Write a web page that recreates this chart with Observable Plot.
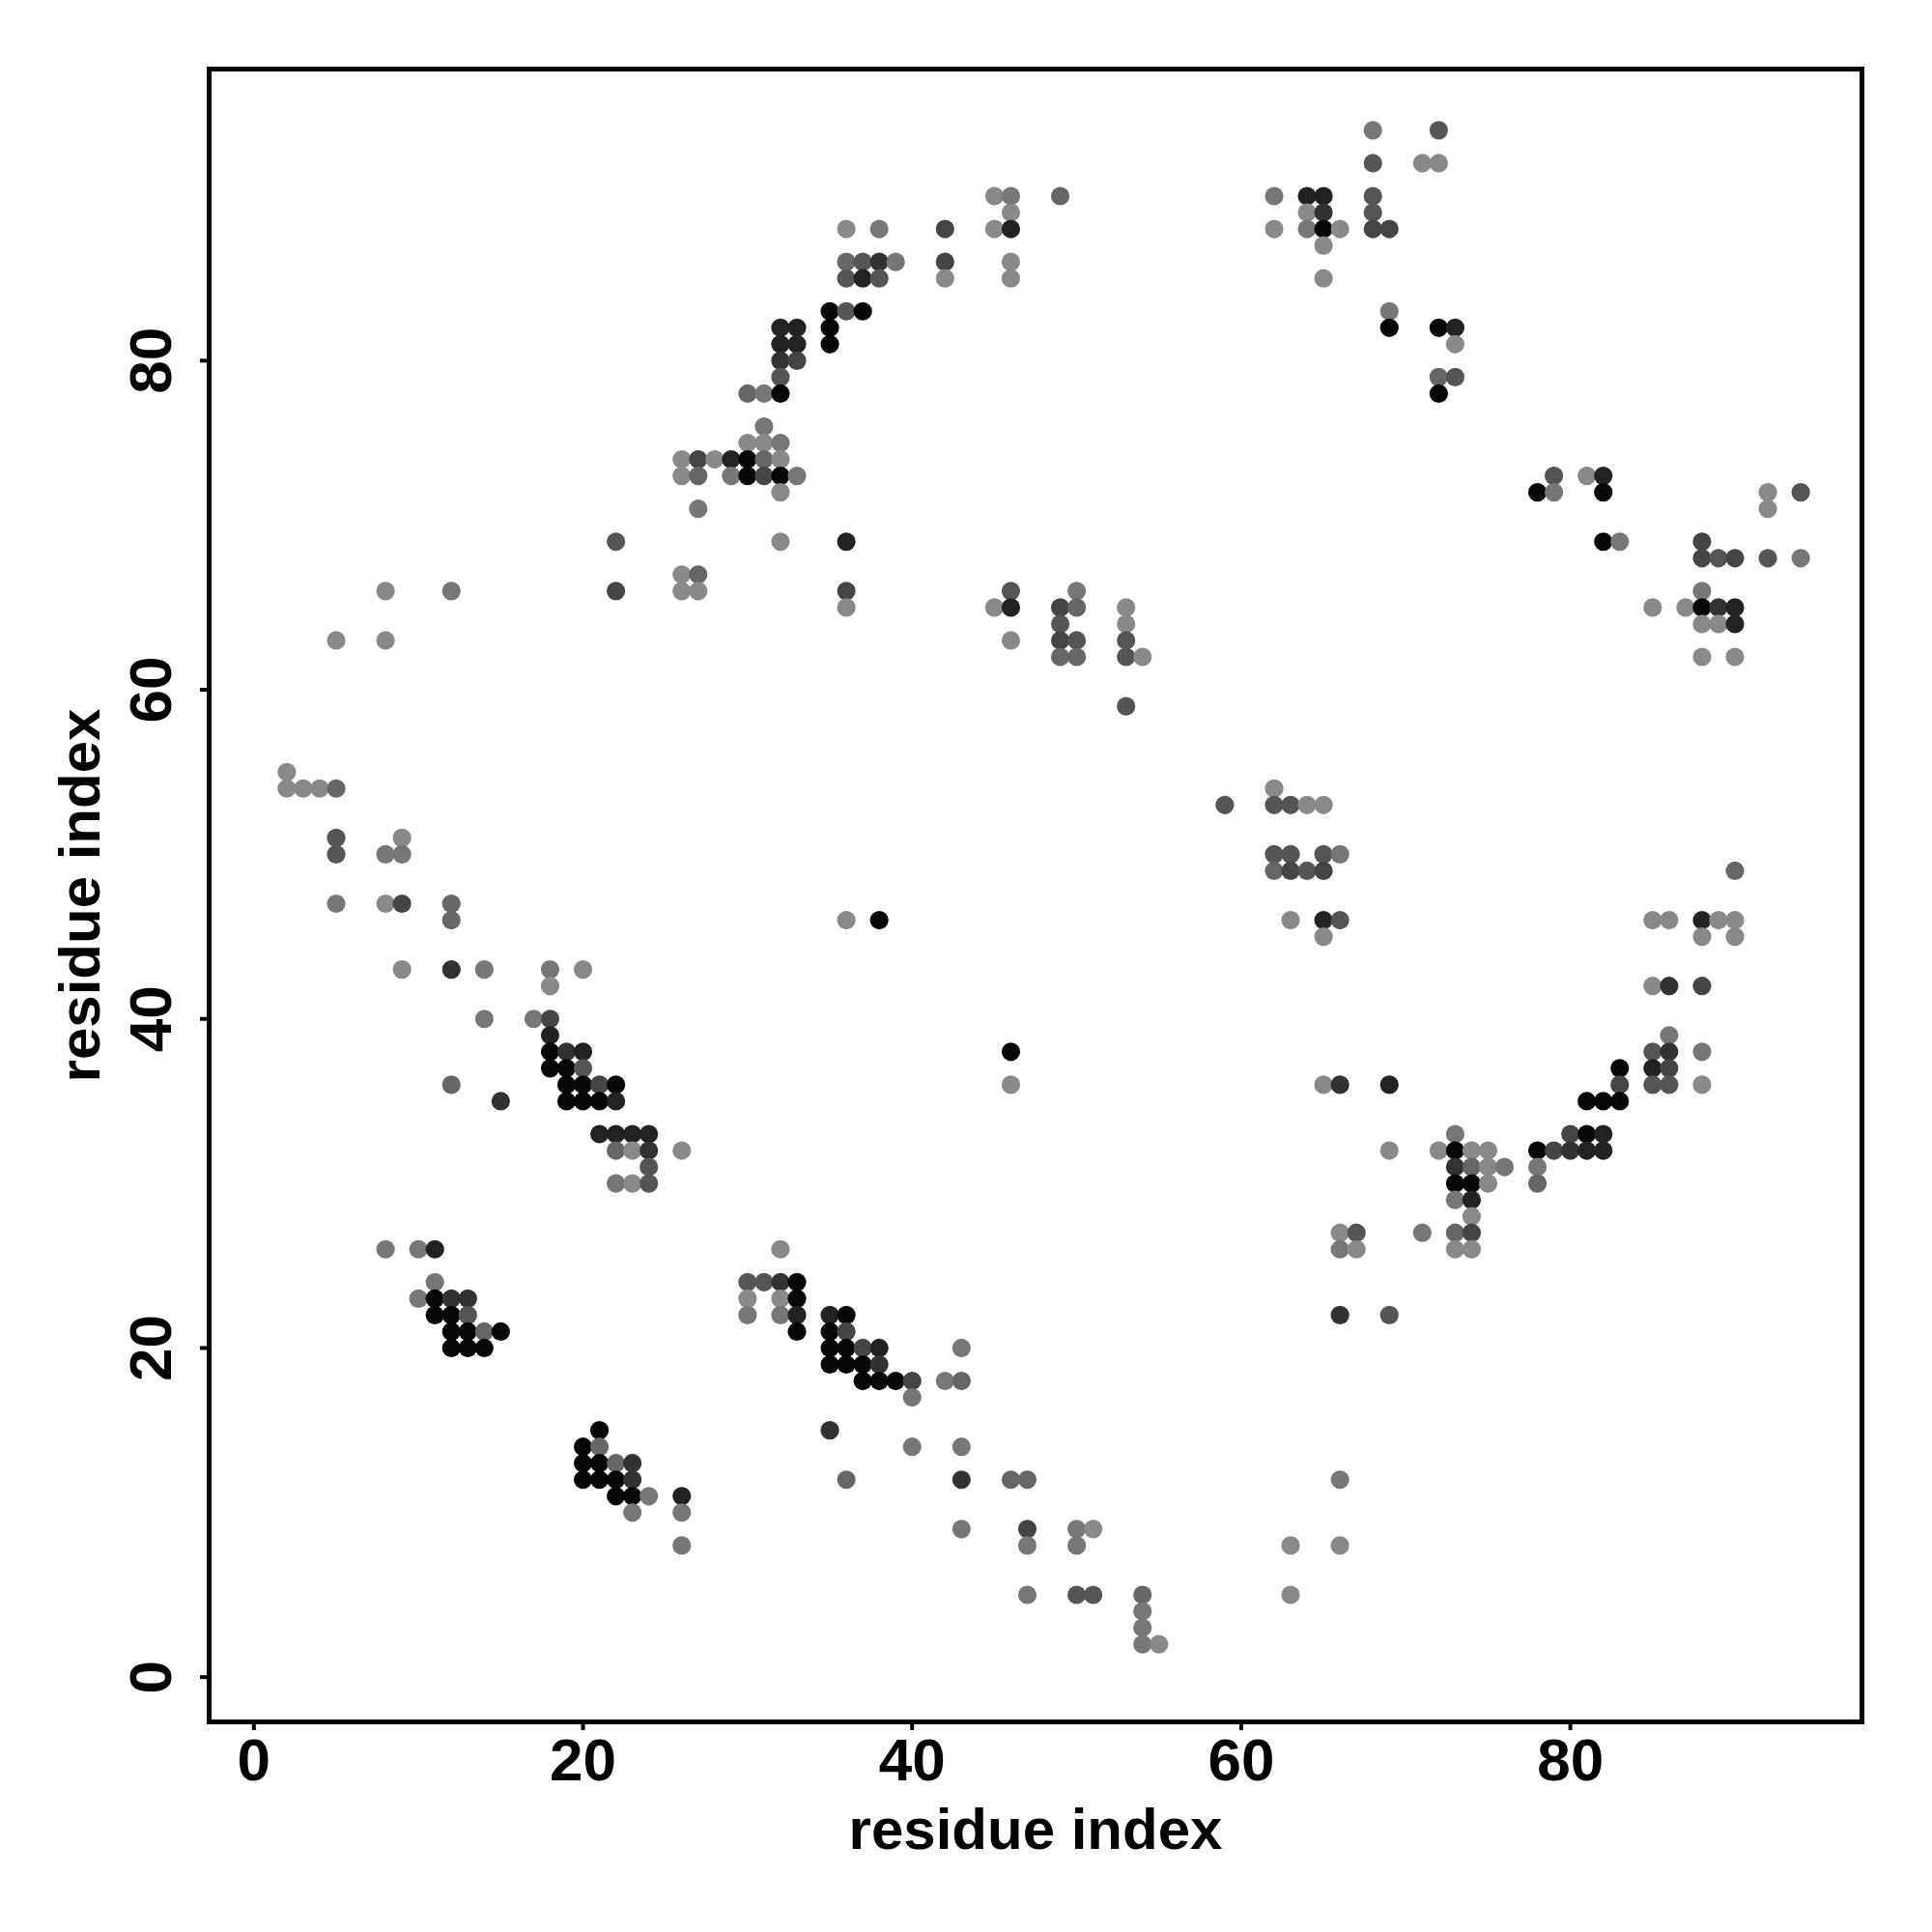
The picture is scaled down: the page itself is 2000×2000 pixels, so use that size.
<!DOCTYPE html>
<html>
<head>
<meta charset="utf-8">
<script src="https://cdn.jsdelivr.net/npm/d3@7"></script>
<script src="https://cdn.jsdelivr.net/npm/@observablehq/plot@0.6"></script>
<style>
  html, body { margin: 0; padding: 0; background: #fff; }
  #chart { width: 2000px; height: 2000px; }
</style>
</head>
<body>
<div id="chart"></div>
<script>
// Contact map: for each row (residue j), the residues i in contact and a contact score (0 = weak/light grey, 1 = strong/black)
const rowJ = [94, 92, 90, 89, 88, 87, 86, 85, 83, 82, 81, 80, 79, 78, 76, 75, 74, 73, 72, 71, 69, 68, 67, 66, 65, 64, 63, 62, 59, 55, 54, 53, 51, 50, 49, 47, 46, 45, 43, 42, 40, 39, 38, 37, 36, 35, 33, 32, 31, 30, 29, 28, 27, 26, 24, 23, 22, 21, 20, 19, 18, 17, 15, 14, 13, 12, 11, 10, 9, 8, 5, 4, 3, 2];
const rowI = [
  [68, 72],
  [68, 71, 72],
  [45, 46, 49, 62, 64, 65, 68],
  [46, 64, 65, 68],
  [36, 38, 42, 45, 46, 62, 64, 65, 66, 68, 69],
  [65],
  [36, 37, 38, 39, 42, 46],
  [36, 37, 38, 42, 46, 65],
  [35, 36, 37, 69],
  [32, 33, 35, 69, 72, 73],
  [32, 33, 35, 73],
  [32, 33],
  [32, 72, 73],
  [30, 31, 32, 72],
  [31],
  [30, 31, 32],
  [26, 27, 28, 29, 30, 31, 32],
  [26, 27, 29, 30, 31, 32, 33, 79, 81, 82],
  [32, 78, 79, 82, 92, 94],
  [27, 92],
  [22, 32, 36, 82, 83, 88],
  [88, 89, 90, 92, 94],
  [26, 27],
  [8, 12, 22, 26, 27, 36, 46, 50, 88],
  [36, 45, 46, 49, 50, 53, 85, 87, 88, 89, 90],
  [49, 53, 88, 89, 90],
  [5, 8, 46, 49, 50, 53],
  [49, 50, 53, 54, 88, 90],
  [53],
  [2],
  [2, 3, 4, 5, 62],
  [59, 62, 63, 64, 65],
  [5, 9],
  [5, 8, 9, 62, 63, 65, 66],
  [62, 63, 64, 65, 90],
  [5, 8, 9, 12],
  [12, 36, 38, 63, 65, 66, 85, 86, 88, 89, 90],
  [65, 88, 90],
  [9, 12, 14, 18, 20],
  [18, 85, 86, 88],
  [14, 17, 18],
  [18, 86],
  [18, 19, 20, 46, 85, 86, 88],
  [18, 19, 20, 83, 85, 86],
  [12, 19, 20, 21, 22, 46, 65, 66, 69, 83, 85, 86, 88],
  [15, 19, 20, 21, 22, 81, 82, 83],
  [21, 22, 23, 24, 73, 80, 81, 82],
  [22, 23, 24, 26, 69, 72, 73, 74, 75, 78, 79, 80, 81, 82],
  [24, 73, 74, 75, 76, 78],
  [22, 23, 24, 73, 74, 75, 78],
  [73, 74],
  [74],
  [66, 67, 71, 73, 74],
  [8, 10, 11, 32, 66, 67, 73, 74],
  [11, 30, 31, 32, 33],
  [10, 11, 12, 13, 30, 32, 33],
  [11, 12, 13, 30, 32, 33, 35, 36, 66, 69],
  [12, 13, 14, 15, 33, 35, 36],
  [12, 13, 14, 35, 36, 37, 38, 43],
  [35, 36, 37, 38],
  [37, 38, 39, 40, 42, 43],
  [40],
  [21, 35],
  [20, 21, 40, 43],
  [20, 21, 22, 23],
  [20, 21, 22, 23, 36, 43, 46, 47, 66],
  [22, 23, 24, 26],
  [23, 26],
  [43, 47, 50, 51],
  [26, 47, 50, 63, 66],
  [47, 50, 51, 54, 63],
  [54],
  [54],
  [54, 55]
];
const rowScore = [
  [.15, .39],
  [.39, .02, .02],
  [.02, .15, .27, .15, .76, .76, .39],
  [.02, .02, .64, .39],
  [.02, .15, .51, .02, .76, .02, .15, .95, .02, .51, .51],
  [.02],
  [.27, .39, .64, .15, .51, .02],
  [.39, .76, .39, .02, .02, .02],
  [.95, .39, .95, .15],
  [.76, .76, .95, .95, .95, .76],
  [.76, .76, .95, .02],
  [.64, .51],
  [.39, .27, .39],
  [.27, .15, .95, .95],
  [.15],
  [.02, .02, .15],
  [.02, .51, .02, .76, .95, .27, .02],
  [.02, .27, .15, .95, .51, .95, .15, .39, .02, .76],
  [.02, .95, .15, .95, .02, .39],
  [.15, .02],
  [.39, .02, .76, .95, .15, .51],
  [.51, .39, .51, .39, .15],
  [.02, .27],
  [.02, .15, .51, .02, .02, .51, .39, .15, .15],
  [.02, .02, .76, .51, .27, .02, .02, .02, .95, .64, .76],
  [.39, .02, .02, .02, .76],
  [.02, .02, .02, .51, .39, .39],
  [.27, .27, .39, .02, .02, .02],
  [.39],
  [.02],
  [.02, .02, .02, .27, .02],
  [.39, .39, .39, .02, .02],
  [.39, .02],
  [.39, .15, .15, .39, .39, .39, .15],
  [.27, .51, .39, .51, .27],
  [.15, .02, .51, .27],
  [.27, .02, .95, .02, .76, .39, .02, .02, .76, .02, .02],
  [.02, .02, .02],
  [.02, .64, .15, .15, .02],
  [.02, .02, .64, .51],
  [.15, .15, .51],
  [.76, .15],
  [.95, .64, .76, .95, .39, .64, .15],
  [.95, .95, .39, .95, .76, .51],
  [.27, .95, .95, .51, .95, .02, .02, .64, .76, .51, .39, .39, .02],
  [.64, .95, .95, .95, .76, .95, .95, .95],
  [.76, .76, .76, .76, .15, .51, .95, .76],
  [.27, .02, .64, .02, .02, .02, .95, .02, .02, .95, .51, .64, .76, .76],
  [.39, .64, .27, .02, .15, .15],
  [.15, .02, .39, .95, .95, .02, .27],
  [.15, .76],
  [.02],
  [.02, .39, .15, .27, .51],
  [.15, .15, .76, .02, .15, .02, .02, .02],
  [.15, .39, .39, .64, .95],
  [.15, .95, .64, .64, .02, .02, .95],
  [.95, .95, .39, .15, .15, .76, .76, .95, .64, .39],
  [.95, .95, .27, .95, .95, .95, .51],
  [.95, .95, .95, .95, .95, .51, .76, .15],
  [.95, .95, .95, .64],
  [.95, .95, .95, .51, .15, .27],
  [.15],
  [.95, .64],
  [.95, .27, .15, .15],
  [.95, .95, .27, .64],
  [.95, .95, .95, .64, .27, .64, .27, .27, .15],
  [.95, .95, .15, .76],
  [.15, .15],
  [.15, .51, .15, .02],
  [.15, .15, .15, .02, .02],
  [.15, .39, .39, .27, .02],
  [.15],
  [.15],
  [.15, .02]
];
const xTicks = [0, 20, 40, 60, 80];
const yTicks = [0, 20, 40, 60, 80];
const xTitle = "residue index";
const yTitle = "residue index";

const contacts = rowJ.flatMap((j, k) => rowI[k].map((i, n) => ({i, j, score: rowScore[k][n]})));

const font = "'Liberation Sans', Arial, Helvetica, sans-serif";

const chart = Plot.plot({
  width: 2000,
  height: 2000,
  marginLeft: 216,
  marginRight: 73,
  marginTop: 71,
  marginBottom: 218,
  style: {fontFamily: font, background: "#fff", color: "#000", overflow: "visible"},
  x: {domain: [-2.72, 97.72], label: null},
  y: {domain: [-2.72, 97.72], label: null},
  color: {type: "linear", domain: [0, 1], range: ["#8c8c8c", "#000000"]},
  marks: [
    Plot.dot(contacts, {x: "i", y: "j", r: 9.6, fill: "score", stroke: null}),
    Plot.frame({stroke: "#000", strokeWidth: 5}),
    Plot.axisX({ticks: xTicks, tickSize: 9, tickPadding: 7, strokeWidth: 4,
      fontSize: 62, fontWeight: "bold", label: null, tickFormat: d => String(d)}),
    Plot.axisY({ticks: yTicks, tickSize: 9, strokeWidth: 4, fill: "none", label: null}),
    Plot.text(yTicks, {y: d => d, text: d => String(d), frameAnchor: "left", dx: -40,
      rotate: -90, textAnchor: "middle", lineAnchor: "bottom", fontSize: 62, fontWeight: "bold", fill: "#000"}),
    Plot.text([xTitle], {text: d => d, frameAnchor: "bottom", dy: 131, lineAnchor: "bottom",
      fontSize: 60, fontWeight: "bold", fill: "#000"}),
    Plot.text([yTitle], {text: d => d, frameAnchor: "left", dx: -114, rotate: -90,
      textAnchor: "middle", lineAnchor: "bottom", fontSize: 60, fontWeight: "bold", fill: "#000"})
  ]
});
document.getElementById("chart").appendChild(chart);
</script>
</body>
</html>
